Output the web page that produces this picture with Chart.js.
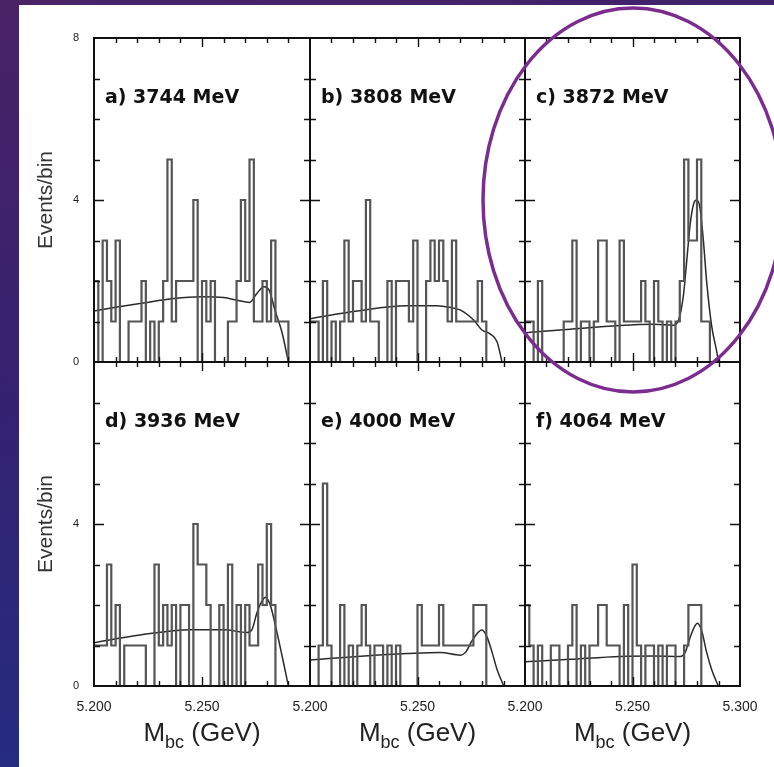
<!DOCTYPE html>
<html><head><meta charset="utf-8">
<script src="https://cdn.jsdelivr.net/npm/chart.js@4.4.0/dist/chart.umd.min.js"></script>
<style>
html,body{margin:0;padding:0;width:774px;height:767px;overflow:hidden;}
body{background:linear-gradient(165deg,#4a2366 0%,#352270 40%,#1d3189 100%);position:relative;}
#sheet{position:absolute;left:19px;top:5px;width:755px;height:762px;background:#fff;}
canvas{position:absolute;left:0;top:0;}
</style></head><body>
<div id="sheet"></div>
<canvas id="ca" width="774" height="767"></canvas>
<canvas id="cb" width="774" height="767"></canvas>
<canvas id="cc" width="774" height="767"></canvas>
<canvas id="cd" width="774" height="767"></canvas>
<canvas id="ce" width="774" height="767"></canvas>
<canvas id="cf" width="774" height="767"></canvas>
<script>
// ---------- data ----------
const X_MIN = 5.200, X_MAX = 5.300, BIN_WIDTH = 0.002;   // 50 bins of 2 MeV
const PANEL_LABELS = ['a) 3744 MeV','b) 3808 MeV','c) 3872 MeV','d) 3936 MeV','e) 4000 MeV','f) 4064 MeV'];
const X_TICK_LABELS_INNER = [5.200, 5.250];
const X_TICK_LABELS_LAST = [5.200, 5.250, 5.300];
const Y_TICK_LABELS_TOP = [0, 4, 8];
const Y_TICK_LABELS_BOTTOM = [0, 4];
const X_MINOR_TICKS = [5.21,5.22,5.23,5.24,5.25,5.26,5.27,5.28,5.29];
const X_MAJOR_TICKS = [5.25];
const Y_MINOR_TICKS = [1,2,3,5,6,7];
const Y_MAJOR_TICKS = [4];

// events per bin
const HIST_A = [2,0,3,2,1,3,0,0,1,1, 1,2,0,1,0,1,2,5,1,2, 2,2,2,4,0,2,1,2,0,0, 0,1,1,2,4,2,5,1,1,2, 1,3,1,1,1,0,0,0,0,0];
const HIST_B = [1,1,0,2,0,1,0,1,3,1, 2,2,1,4,1,1,0,0,2,0, 2,2,2,1,3,0,0,2,3,2, 3,2,1,3,1,1,1,1,1,2, 1,0,0,0,0,0,0,0,0,0];
const HIST_C = [1,1,0,2,0,0,0,0,0,1, 1,3,0,1,1,0,1,3,3,1, 1,0,3,1,1,1,1,2,1,0, 2,1,0,1,0,1,2,5,3,3, 5,1,1,0,0,0,0,0,0,0];
const HIST_D = [1,1,1,3,1,2,0,1,1,1, 1,1,0,0,3,1,2,1,2,0, 2,2,0,4,3,3,2,0,0,2, 0,3,0,2,0,2,1,1,3,2, 4,2,0,0,0,0,0,0,0,0];
const HIST_E = [0,0,1,5,1,0,0,2,0,1, 0,1,2,1,0,1,1,0,1,0, 1,0,0,0,0,2,1,1,1,1, 2,1,1,1,1,1,1,1,2,2, 2,0,0,0,0,0,0,0,0,0];
const HIST_F = [2,1,0,1,0,0,1,1,0,0, 1,2,0,1,0,1,1,2,2,1, 1,1,0,2,0,3,1,0,1,1, 0,1,0,1,1,0,0,1,2,2, 2,0,0,0,0,0,0,0,0,0];

// fit curves
const FIT_A_X = [5.200,5.210,5.222,5.237,5.250,5.260,5.266,5.272,5.2755,5.2787,5.281,5.284,5.287,5.290];
const FIT_A_Y = [1.26,1.35,1.45,1.57,1.61,1.59,1.53,1.47,1.70,1.86,1.78,1.24,0.74,0.0];
const FIT_B_X = [5.200,5.222,5.245,5.259,5.265,5.270,5.2762,5.280,5.2839,5.287,5.2893];
const FIT_B_Y = [1.07,1.26,1.39,1.39,1.35,1.28,1.03,0.79,0.69,0.50,0.0];
const FIT_C_X = [5.200,5.221,5.244,5.260,5.269,5.2714,5.2737,5.2752,5.2768,5.2786,5.2799,5.2814,5.283,5.2845,5.2868,5.2892,5.290];
const FIT_C_Y = [0.72,0.81,0.90,0.93,0.91,1.03,1.65,2.48,3.39,3.93,4.00,3.80,2.98,1.98,0.90,0.25,0.0];
const FIT_D_X = [5.200,5.2214,5.2446,5.260,5.2709,5.2732,5.2755,5.2779,5.2794,5.2817,5.284,5.2864,5.2887,5.290];
const FIT_D_Y = [1.07,1.26,1.39,1.39,1.32,1.40,1.82,2.11,2.19,1.98,1.49,0.91,0.33,0.0];
const FIT_E_X = [5.200,5.222,5.2452,5.2607,5.270,5.2723,5.2754,5.2785,5.280,5.2824,5.2847,5.287,5.2901];
const FIT_E_Y = [0.64,0.73,0.80,0.83,0.76,0.83,1.12,1.34,1.38,1.20,0.83,0.41,0.0];
const FIT_F_X = [5.200,5.221,5.2443,5.2598,5.2721,5.2745,5.2768,5.2791,5.2802,5.2822,5.2845,5.2868,5.2899];
const FIT_F_Y = [0.60,0.66,0.73,0.74,0.73,0.83,1.20,1.49,1.55,1.36,0.83,0.41,0.0];

// ---------- layout ----------
const W = 774, H = 767;
const COLS = [[94,310],[310,525],[525,740]];
const ROWS = [[38,362],[362,686]];
const Y_AXIS_W = 30, X_AXIS_H = 40;

const HISTS = [HIST_A,HIST_B,HIST_C,HIST_D,HIST_E,HIST_F];
const FITS = [[FIT_A_X,FIT_A_Y],[FIT_B_X,FIT_B_Y],[FIT_C_X,FIT_C_Y],[FIT_D_X,FIT_D_Y],[FIT_E_X,FIT_E_Y],[FIT_F_X,FIT_F_Y]];
const IDS = ['ca','cb','cc','cd','ce','cf'];

function histPoints(h){
  const pts = h.map((v,i)=>({x: X_MIN + i*BIN_WIDTH, y: v}));
  pts.push({x: X_MAX, y: h[h.length-1]});
  return pts;
}

function drawMbc(ctx, cx, baseline){
  const big = '26px "Liberation Sans", Arial, sans-serif';
  const sub = '18px "Liberation Sans", Arial, sans-serif';
  ctx.font = big; const wM = ctx.measureText('M').width; const wG = ctx.measureText(' (GeV)').width;
  ctx.font = sub; const wS = ctx.measureText('bc').width;
  let x = cx - (wM+wS+wG)/2;
  ctx.fillStyle = '#222'; ctx.textBaseline='alphabetic'; ctx.textAlign='left';
  ctx.font = big; ctx.fillText('M', x, baseline); x += wM;
  ctx.font = sub; ctx.fillText('bc', x, baseline+7); x += wS;
  ctx.font = big; ctx.fillText(' (GeV)', x, baseline);
}

const decor = {
  id:'decor',
  afterDraw(chart, args, o){
    const ctx = chart.ctx, a = chart.chartArea, xs = chart.scales.x, ys = chart.scales.y;
    ctx.save();
    ctx.strokeStyle = '#111'; ctx.lineCap='butt';
    ctx.lineWidth = 1.4;
    ctx.beginPath();
    const xt = (vals,len)=>vals.forEach(v=>{ const px = Math.round(xs.getPixelForValue(v))+0.5;
      ctx.moveTo(px,a.top); ctx.lineTo(px,a.top+len); ctx.moveTo(px,a.bottom); ctx.lineTo(px,a.bottom-len); });
    const yt = (vals,len)=>vals.forEach(v=>{ const py = Math.round(ys.getPixelForValue(v))+0.5;
      ctx.moveTo(a.left,py); ctx.lineTo(a.left+len,py); ctx.moveTo(a.right,py); ctx.lineTo(a.right-len,py); });
    xt(X_MINOR_TICKS.filter(v=>!X_MAJOR_TICKS.includes(v)),5);
    xt(X_MAJOR_TICKS,9);
    yt(Y_MINOR_TICKS,6);
    yt(Y_MAJOR_TICKS,10);
    ctx.stroke();
    ctx.lineWidth = 2;
    ctx.strokeRect(a.left, a.top, a.right-a.left, a.bottom-a.top);
    // panel label
    ctx.fillStyle = '#111';
    ctx.font = 'bold 19px "DejaVu Sans", sans-serif';
    ctx.textAlign='left'; ctx.textBaseline='alphabetic';
    ctx.fillText(o.label, a.left+11, a.top+65);
    if (o.yTitle){
      ctx.save(); ctx.translate(46,(a.top+a.bottom)/2); ctx.rotate(-Math.PI/2);
      ctx.font = '21px "Liberation Sans", Arial, sans-serif'; ctx.fillStyle='#333';
      ctx.textAlign='center'; ctx.textBaseline='middle';
      ctx.fillText('Events/bin',0,0); ctx.restore();
    }
    if (o.xTitle) drawMbc(ctx,(a.left+a.right)/2, 741);
    if (o.ring){
      ctx.beginPath(); ctx.ellipse(633,200,150,192,0,0,Math.PI*2);
      ctx.strokeStyle='#7b2c8f'; ctx.lineWidth=3.5; ctx.stroke();
    }
    ctx.restore();
  }
};

for (let i=0;i<6;i++){
  const col = COLS[i%3], row = ROWS[Math.floor(i/3)];
  const isLeft = i%3===0, isBottom = i>=3;
  const xLabels = i===5 ? X_TICK_LABELS_LAST : X_TICK_LABELS_INNER;
  const yLabels = isBottom ? Y_TICK_LABELS_BOTTOM : Y_TICK_LABELS_TOP;
  new Chart(document.getElementById(IDS[i]), {
    type:'line',
    data:{datasets:[
      {data: histPoints(HISTS[i]), stepped:'before', borderColor:'#555', borderWidth:2.2, pointRadius:0, fill:false},
      {data: FITS[i][0].map((x,k)=>({x, y: FITS[i][1][k]})), borderColor:'#2a2a2a', borderWidth:1.5, pointRadius:0, fill:false, cubicInterpolationMode:'monotone'}
    ]},
    options:{
      responsive:false, animation:false, devicePixelRatio:1, events:[],
      layout:{padding:{left: col[0]-(isLeft?Y_AXIS_W:0), top: row[0], right: W-col[1], bottom: H-row[1]-(isBottom?X_AXIS_H:0)}},
      plugins:{legend:{display:false}, tooltip:{enabled:false},
        decor:{label: PANEL_LABELS[i], yTitle:isLeft, xTitle:isBottom, ring: i===5}},
      scales:{
        x:{type:'linear', min:X_MIN, max:X_MAX, display:isBottom,
           grid:{display:false}, border:{display:false},
           afterBuildTicks:s=>{ s.ticks = xLabels.map(v=>({value:v})); },
           afterFit:s=>{ if (isBottom) s.height = X_AXIS_H; else s.height = 0; },
           ticks:{font:{family:'"Liberation Sans", Arial, sans-serif', size:14}, color:'#222', padding:5,
                  maxRotation:0, autoSkip:false, callback:v=>Number(v).toFixed(3)}},
        y:{type:'linear', min:0, max:8, display:isLeft,
           grid:{display:false}, border:{display:false},
           afterBuildTicks:s=>{ s.ticks = yLabels.map(v=>({value:v})); },
           afterFit:s=>{ if (isLeft) s.width = Y_AXIS_W; else s.width = 0; },
           ticks:{font:{family:'"Liberation Sans", Arial, sans-serif', size:11}, color:'#222', padding:7, autoSkip:false}}
      }
    },
    plugins:[decor]
  });
}
</script>
</body></html>
